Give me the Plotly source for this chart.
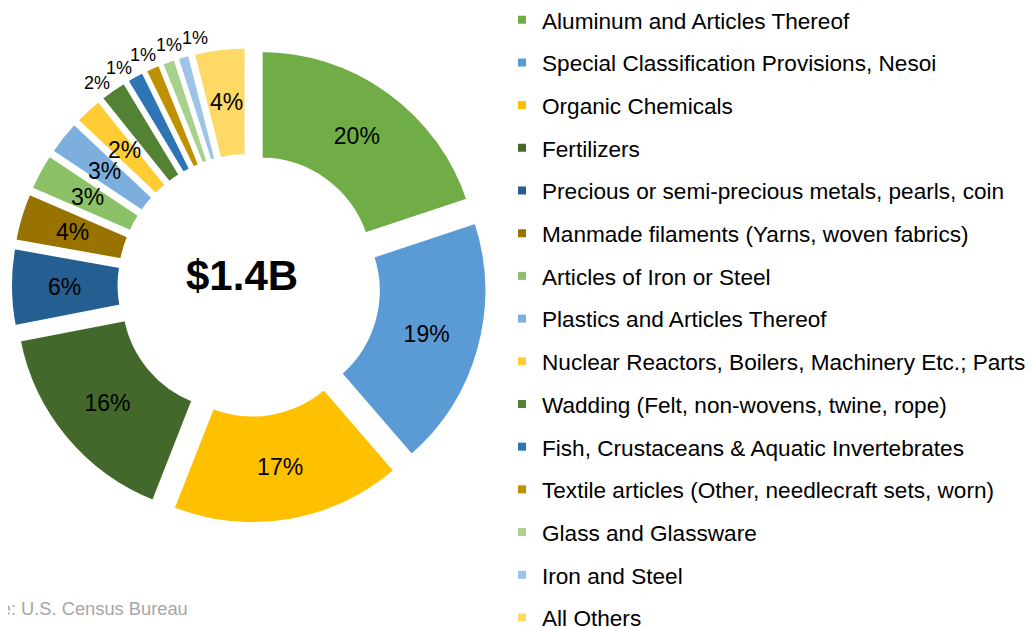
import math
import plotly.graph_objects as go

categories = [
    "Aluminum and Articles Thereof",
    "Special Classification Provisions, Nesoi",
    "Organic Chemicals",
    "Fertilizers",
    "Precious or semi-precious metals, pearls, coin",
    "Manmade filaments (Yarns, woven fabrics)",
    "Articles of Iron or Steel",
    "Plastics and Articles Thereof",
    "Nuclear Reactors, Boilers, Machinery Etc.; Parts",
    "Wadding (Felt, non-wovens, twine, rope)",
    "Fish, Crustaceans & Aquatic Invertebrates",
    "Textile articles (Other, needlecraft sets, worn)",
    "Glass and Glassware",
    "Iron and Steel",
    "All Others",
]
shares = [19.9, 18.75, 17.3, 16.0, 5.85, 3.7, 2.85, 2.7, 2.2, 2.1, 1.4, 1.2, 1.1, 1.0, 3.95]
colors = [
    "#70AD47", "#5B9BD5", "#FFC000",
    "#43682B", "#255E91", "#997300",
    "#8CC168", "#7CAFDD", "#FFCD33",
    "#548235", "#2E75B6", "#BF9000",
    "#A9D18E", "#9DC3E6", "#FFD966",
]
# how each slice label is shown: native (plotly inside), ring (over the slice), out (outside)
label_mode = ["native"] * 4 + ["ring"] * 5 + ["out"] * 5 + ["ring"]
total_label = "$1.4B"
source_note = "Source: U.S. Census Bureau"

FONT = "Arial, Liberation Sans, sans-serif"
W, H = 1033, 627
OFF = 8  # the page body margin shifts the figure by this much
HOLE = 0.5
PULL = 0.091
DOM_X = (10 - OFF, 488 - OFF)        # pie domain in figure px
DOM_Y = (46.3 - OFF, 524.3 - OFF)    # px from top


def px(x):
    return x / W


def py(y):
    return 1 - y / H


fig = go.Figure()
fig.add_trace(go.Pie(
    labels=categories,
    values=shares,
    sort=False,
    direction="clockwise",
    rotation=0,
    hole=HOLE,
    pull=[PULL] * len(shares),
    marker=dict(colors=colors, line=dict(color="white", width=4)),
    texttemplate=["%{percent:.0%}" if m == "native" else "" for m in label_mode],
    textposition="inside",
    insidetextorientation="horizontal",
    textfont=dict(family=FONT, size=23, color="black"),
    showlegend=False,
    domain=dict(x=[px(DOM_X[0]), px(DOM_X[1])], y=[py(DOM_Y[1]), py(DOM_Y[0])]),
    hoverinfo="label+percent",
))

# ---- labels for thin slices, placed from the slice angles ----
cx = (DOM_X[0] + DOM_X[1]) / 2
cy = (DOM_Y[0] + DOM_Y[1]) / 2
R = min(DOM_X[1] - DOM_X[0], DOM_Y[1] - DOM_Y[0]) / 2 / (1 + PULL)
pull_px = PULL * R
tot = sum(shares)
mids = []
acc = 0.0
for v in shares:
    mids.append((acc + v / 2) / tot * 360.0)
    acc += v


def put_label(angle, dist, text, size):
    x = cx + dist * math.sin(math.radians(angle))
    y = cy - dist * math.cos(math.radians(angle))
    fig.add_annotation(
        text=text, x=px(x), y=py(y), xref="paper", yref="paper",
        xanchor="center", yanchor="middle",
        showarrow=False, font=dict(family=FONT, size=size, color="black"),
    )


for i, m in enumerate(label_mode):
    if m == "ring":
        pct = round(shares[i] / tot * 100)
        put_label(mids[i], (R + HOLE * R) / 2 + pull_px, f"{pct}%", 23)

out_idx = [i for i, m in enumerate(label_mode) if m == "out"]
ang = [mids[i] for i in out_idx]
SEP = 6.2
for _ in range(300):
    for k in range(len(ang) - 1):
        d = ang[k + 1] - ang[k]
        if d < SEP:
            push = (SEP - d) / 2
            ang[k] -= push
            ang[k + 1] += push
for k, i in enumerate(out_idx):
    pct = round(shares[i] / tot * 100)
    put_label(ang[k], R + pull_px + 14, f"{pct}%", 18)

# legend entries (square markers) with custom spacing
for name, col in zip(categories, colors):
    fig.add_trace(go.Scatter(
        x=[None], y=[None], mode="markers", name=name,
        legendgroup=name,
        marker=dict(symbol="square", size=8, color=col),
    ))

fig.add_annotation(
    text="<b>" + total_label + "</b>", x=px(241.5 - OFF), y=py(275 - OFF),
    xref="paper", yref="paper", xanchor="center", yanchor="middle", showarrow=False,
    font=dict(family=FONT, size=42, color="black"),
)
fig.add_annotation(
    text=source_note, x=px(188 - OFF + 2), y=py(608.5 - OFF), xanchor="right", yanchor="middle",
    xref="paper", yref="paper", showarrow=False,
    font=dict(family=FONT, size=18.3, color="#A6A6A6"),
)

fig.update_layout(
    width=W, height=H,
    margin=dict(l=0, r=0, t=0, b=0, autoexpand=False),
    paper_bgcolor="white", plot_bgcolor="white",
    xaxis=dict(visible=False), yaxis=dict(visible=False),
    legend=dict(
        x=px(494), y=1 + 9.5 / H, xanchor="left", yanchor="top",
        font=dict(family=FONT, size=22.6, color="black"),
        tracegroupgap=10.32, bgcolor="rgba(0,0,0,0)",
        maxheight=800,
    ),
)

fig.write_html("out.html")
